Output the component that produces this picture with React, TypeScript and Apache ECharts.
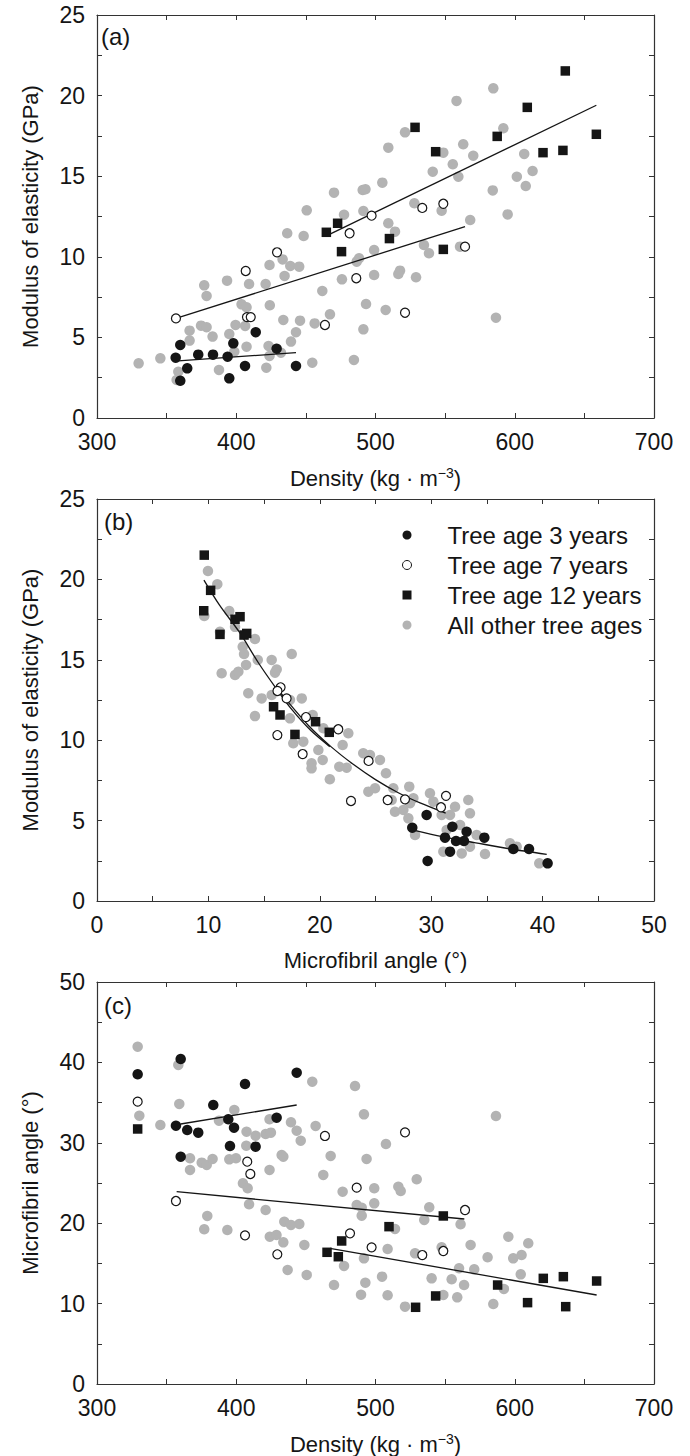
import React, { useEffect, useRef } from "react";
import * as echarts from "echarts";

// ---------- Panel (a): MOE vs density ----------
const A_AGE3 = [[356.5,3.74],[359.8,4.53],[364.8,3.08],[359.8,2.31],[372.7,3.93],[383.3,3.93],[393.8,3.8],[397.9,4.63],[395,2.46],[406.3,3.23],[414,5.32],[429,4.3],[442.9,3.23]];
const A_AGE7 = [[356.7,6.18],[406.8,9.12],[429.3,10.28],[407.7,6.26],[410.4,6.26],[463.7,5.77],[486.2,8.67],[481.4,11.46],[564.3,10.63],[521.2,6.53],[533.6,13.03],[548.7,13.29],[497.2,12.55]];
const A_AGE12 = [[464.7,11.52],[472.8,12.08],[475.6,10.32],[510,11.13],[548.7,10.46],[528.4,18.03],[543.2,16.52],[587.4,17.47],[609,19.27],[636.3,21.53],[658.6,17.6],[620.3,16.46],[634.6,16.6]];
const A_OTHER = [[329.9,3.39],[345.5,3.7],[358.4,2.87],[357.2,2.36],[366.5,5.42],[366.5,4.8],[374.7,5.73],[378.7,5.63],[383,5.05],[377,8.23],[378.7,7.57],[387.6,2.98],[393.4,8.52],[395,5.21],[399.5,5.77],[398.6,4.11],[403.8,7.05],[407.4,6.87],[406.4,5.71],[407.4,4.42],[409.2,8.31],[421.1,8.31],[421.6,3.12],[423.9,9.49],[424.1,6.99],[423.2,4.47],[423.9,3.85],[433.3,9.84],[434.7,8.81],[433.8,6.08],[432.1,4.05],[438.8,9.43],[445.2,9.39],[445.8,6.04],[442.9,5.32],[439.3,4.74],[436.6,11.46],[448.4,11.29],[454.6,3.43],[456.3,5.87],[461.8,7.88],[467.3,6.43],[475.9,8.6],[484.5,3.6],[488.2,9.91],[486.5,9.7],[491.3,5.5],[493.2,7.07],[499,10.42],[499,8.87],[507.3,6.7],[509.2,12.08],[514,11.56],[534.8,10.73],[538.4,10.22],[517.6,9.14],[516.4,8.93],[529.1,8.73],[560.7,10.63],[568,12.28],[586.5,6.22],[509.2,16.77],[521.2,17.72],[504.9,14.6],[558.2,19.67],[584.6,20.45],[591.8,17.97],[548.7,16.46],[563,16.98],[570.2,16.27],[555.5,15.74],[541.1,15.28],[559.5,14.97],[527.9,13.32],[547.5,12.86],[584.2,14.12],[601.5,14.97],[606.8,16.38],[612.8,15.32],[607.9,14.39],[594.9,12.63],[490.8,14.14],[492.8,14.19],[470.2,13.98],[450.6,12.88],[477.4,12.61],[491.3,12.84]];
const A_FIT3 = [[358.4,3.55],[442.9,4.05]];
const A_FIT7 = [[356.7,6.18],[564.3,11.87]];
const A_FIT12 = [[467.3,11.41],[658.6,19.4]];

// ---------- Panel (b): MOE vs microfibril angle ----------
const B_AGE3 = [[29.59,5.35],[28.3,4.56],[31.9,4.62],[31.24,3.94],[32.23,3.73],[32.94,3.73],[33.18,4.31],[34.77,3.94],[31.69,3.07],[29.68,2.49],[37.37,3.23],[38.78,3.23],[40.45,2.34]];
const B_AGE7 = [[16.48,13.29],[16.2,13.06],[17.02,12.6],[18.76,11.44],[21.66,10.68],[16.19,10.32],[18.46,9.14],[24.38,8.71],[22.8,6.22],[26.09,6.28],[27.65,6.32],[31.33,6.54],[30.88,5.83]];
const B_AGE12 = [[9.63,21.51],[10.2,19.32],[9.58,18.05],[11.04,16.58],[12.39,17.52],[12.84,17.68],[13.2,16.54],[13.44,16.64],[15.85,12.08],[16.43,11.57],[17.77,10.36],[19.62,11.15],[20.85,10.49]];
const B_OTHER = [[9.96,20.52],[10.8,19.7],[9.63,17.72],[11.87,18.03],[12.39,17.05],[11.04,16.74],[14.18,16.29],[13.08,15.81],[13.2,15.36],[14.43,14.99],[15.68,14.99],[17.48,15.36],[13.38,14.68],[16.13,14.4],[15.98,14.2],[11.19,14.16],[12.39,14.05],[12.69,14.26],[13.58,12.92],[14.78,12.6],[15.68,12.81],[17.32,12.5],[18.38,12.6],[14.18,11.5],[17.32,11.36],[17.62,9.81],[18.52,9.91],[19.87,9.39],[20.26,8.77],[19.26,8.56],[19.26,8.25],[20.9,7.57],[21.75,8.35],[22.41,8.29],[22.05,9.7],[22.56,10.43],[20.32,10.74],[19.36,11.57],[23.9,9.19],[24.5,9.08],[25.4,8.77],[25.94,7.94],[24.36,6.8],[24.96,7.01],[26.6,7.01],[28.03,7.11],[26.45,6.28],[26.75,5.55],[27.5,5.66],[28.1,6.08],[28.4,6.39],[27.95,5.14],[28.55,4.1],[29.89,6.7],[30.19,6.18],[30.94,5.35],[31.69,5.35],[32.14,5.86],[33.33,6.28],[33.48,5.45],[32.59,4.73],[31.39,4.42],[33.48,3.38],[32.74,2.96],[31.09,3.07],[34.08,4.1],[34.83,2.92],[37.07,3.59],[37.67,3.38],[39.7,2.34]];
const B_FIT3 = [[28.3,4.42],[31,4.0],[34,3.62],[37,3.25],[40.37,2.9]];
const B_FIT7 = [[16.2,13.2],[17,12.5],[19,10.9],[21,9.6],[23,8.5],[25,7.55],[27,6.75],[29,6.1],[31.3,5.47]];
const B_FIT12 = [[9.6,19.96],[11,18.4],[12.8,16.7],[14.5,14.8],[16,13.3],[17.5,11.9],[19.2,10.6],[20.9,9.6]];

// ---------- Panel (c): MFA vs density ----------
const C_AGE3 = [[329.2,38.52],[360.1,40.42],[356.7,32.13],[364.8,31.59],[372.7,31.26],[383.5,34.7],[394.3,32.92],[398.4,31.88],[395.5,29.6],[413.9,29.52],[406.3,37.31],[429,33.12],[443.4,38.72],[360.1,28.27]];
const C_AGE7 = [[329.2,35.12],[463.7,30.85],[407.9,27.65],[410.1,26.12],[356.7,22.76],[486.5,24.42],[406.3,18.49],[429.5,16.13],[481.7,18.74],[497.2,17.0],[521.2,31.3],[564.3,21.64],[533.6,16.04],[548.7,16.54]];
const C_AGE12 = [[329.2,31.72],[465.2,16.38],[473.3,15.83],[475.7,17.79],[509.7,19.57],[548.7,20.9],[528.8,9.54],[543.2,10.95],[587.7,12.31],[609.2,10.12],[620.5,13.14],[634.9,13.35],[636.6,9.62],[658.8,12.81]];
const C_OTHER = [[329.2,41.95],[358.4,39.68],[359.1,34.83],[330.4,33.37],[345.5,32.21],[387.6,32.75],[398.6,34.08],[407.4,31.38],[413.9,30.88],[421.1,31.09],[424.9,31.26],[423.9,32.92],[439.3,32.55],[443.4,31.5],[446.3,30.26],[454.6,37.6],[457,32.09],[485.3,37.06],[491.7,33.54],[507.5,29.85],[407.2,29.64],[366.8,28.07],[375.2,27.53],[378.8,27.24],[383,27.99],[395,27.94],[399.8,28.07],[366.8,26.62],[423.9,26.62],[432.6,28.48],[433.8,28.27],[467.8,28.36],[493.6,27.99],[462.5,26.0],[586.5,33.33],[529.6,25.46],[404.8,24.96],[408.2,24.34],[409.2,22.35],[421.1,21.64],[379.2,20.9],[377,19.24],[393.6,19.15],[434.5,20.19],[439.3,19.78],[445.3,19.9],[424.1,18.32],[428.9,18.53],[433.8,17.62],[448.9,17.29],[476.4,23.92],[499.1,24.34],[499.1,22.47],[486.5,22.26],[490.1,21.93],[490.1,20.93],[436.9,14.18],[450.6,13.56],[477.4,14.68],[491.7,15.63],[470.2,12.31],[492.7,12.6],[489.6,11.11],[508.7,16.79],[504.7,13.35],[508.7,11.03],[516.4,24.54],[518.1,24.0],[538.6,21.98],[535,20.4],[561.1,19.86],[514,19.28],[528.4,16.25],[547.5,17.0],[568.3,17.29],[580.5,15.76],[595.4,18.32],[609.7,17.5],[598.9,15.63],[604.9,16.04],[604.3,13.64],[560,14.39],[570.9,14.26],[540.3,13.14],[554.7,13.02],[563.6,12.31],[521.2,9.62],[548.7,11.07],[558.7,10.78],[584.6,9.95],[592.2,11.82]];
const C_FIT3 = [[360.1,32.34],[443.4,34.7]];
const C_FIT7 = [[357.2,23.92],[563.8,20.52]];
const C_FIT12 = [[467.3,16.88],[658.8,11.07]];

const SERIES_NAMES = ["Tree age 3 years", "Tree age 7 years", "Tree age 12 years", "All other tree ages"];
const PANEL_LABELS = ["(a)", "(b)", "(c)"];

const FONT = "'Liberation Sans', Arial, Helvetica, sans-serif";
const INK = "#151515";
const FRAME = "#333333";
const GRAY = "#b3b3b3";

function axisPair(kind: "x" | "y", gi: number, min: number, max: number, interval: number, name: string, richName?: boolean) {
  const line = { show: true, onZero: false, lineStyle: { color: FRAME, width: 1.2 } };
  const tick = { show: true, inside: true, length: 5, lineStyle: { color: FRAME, width: 1 } };
  const minor = { show: true, splitNumber: 2, length: 5, lineStyle: { color: FRAME, width: 1 } };
  const base: any = {
    type: "value", gridIndex: gi, min, max, interval,
    axisLine: line, axisTick: tick, minorTick: minor,
    splitLine: { show: false }, minorSplitLine: { show: false },
  };
  const primary: any = {
    ...base,
    position: kind === "x" ? "bottom" : "left",
    axisLabel: { show: true, fontSize: 23, fontFamily: FONT, color: INK, margin: 12 },
    name,
    nameLocation: "middle",
    nameGap: kind === "x" ? 48 : 56,
    nameTextStyle: {
      fontSize: 22, fontFamily: FONT, color: INK,
      rich: richName ? {
        sup: { fontSize: 14, fontFamily: FONT, color: INK, verticalAlign: "bottom", padding: [0, 0, 10, 0] },
      } : undefined,
    },
  };
  const secondary: any = {
    ...base,
    position: kind === "x" ? "top" : "right",
    axisLabel: { show: false },
  };
  return [primary, secondary];
}

function scat(name: string, data: number[][], gi: number, kind: number) {
  const styles = [
    { symbol: "circle", symbolSize: 10.5, itemStyle: { color: INK, opacity: 1 } },
    { symbol: "circle", symbolSize: 9, itemStyle: { color: "#ffffff", borderColor: INK, borderWidth: 1.2, opacity: 1 } },
    { symbol: "rect", symbolSize: 9.5, itemStyle: { color: INK, opacity: 1 } },
    { symbol: "circle", symbolSize: 10.5, itemStyle: { color: GRAY, opacity: 1 } },
  ];
  return {
    type: "scatter", name, data, xAxisIndex: gi * 2, yAxisIndex: gi * 2,
    z: kind === 3 ? 1 : 3, silent: true,
    ...styles[kind],
  };
}

function fit(data: number[][], gi: number, smooth: boolean) {
  return {
    type: "line", data, xAxisIndex: gi * 2, yAxisIndex: gi * 2,
    showSymbol: false, symbol: "none", smooth: smooth ? 0.3 : false, z: 2, silent: true,
    lineStyle: { color: INK, width: 1.3 },
  };
}

export default function App() {
  const ref = useRef<HTMLDivElement>(null);
  useEffect(() => {
    document.body.style.margin = "0";
    if (!ref.current) return;
    const chart = echarts.init(ref.current, undefined, { renderer: "svg" });
    const gridTops = [15, 499, 982];
    const gridHeights = [403, 402, 402];
    const labelTops = [24, 509, 993];
    const densityName = "Density (kg · m{sup|−3})";
    const xA = axisPair("x", 0, 300, 700, 100, densityName, true);
    const xB = axisPair("x", 1, 0, 50, 10, "Microfibril angle (°)");
    const xC = axisPair("x", 2, 300, 700, 100, densityName, true);
    const yA = axisPair("y", 0, 0, 25, 5, "Modulus of elasticity (GPa)");
    const yB = axisPair("y", 1, 0, 25, 5, "Modulus of elasticity (GPa)");
    const yC = axisPair("y", 2, 0, 50, 10, "Microfibril angle (°)");

    const option: any = {
      animation: false,
      backgroundColor: "#ffffff",
      title: PANEL_LABELS.map((t, i) => ({
        text: t, left: i === 0 ? 101 : 104, top: labelTops[i], padding: 0,
        textStyle: { fontSize: 24, fontWeight: "normal", fontFamily: FONT, color: INK },
      })),
      legend: {
        left: 402, top: 523, orient: "vertical", padding: 0,
        itemWidth: 9, itemHeight: 9, itemGap: 6, selectedMode: false,
        textStyle: { fontSize: 24, fontFamily: FONT, color: INK, lineHeight: 24, padding: [0, 0, 0, 31] },
        data: [
          { name: SERIES_NAMES[0], icon: "circle", itemStyle: { color: INK, opacity: 1 } },
          { name: SERIES_NAMES[1], icon: "circle", itemStyle: { color: "#ffffff", borderColor: INK, borderWidth: 1, opacity: 1 } },
          { name: SERIES_NAMES[2], icon: "rect", itemStyle: { color: INK, opacity: 1 } },
          { name: SERIES_NAMES[3], icon: "circle", itemStyle: { color: GRAY, opacity: 1 } },
        ],
      },
      grid: gridTops.map((t, i) => ({ left: 97, width: 557, top: t, height: gridHeights[i] })),
      xAxis: [...xA, ...xB, ...xC],
      yAxis: [...yA, ...yB, ...yC],
      series: [
        scat(SERIES_NAMES[3], A_OTHER, 0, 3),
        fit(A_FIT3, 0, false), fit(A_FIT7, 0, false), fit(A_FIT12, 0, false),
        scat(SERIES_NAMES[0], A_AGE3, 0, 0),
        scat(SERIES_NAMES[1], A_AGE7, 0, 1),
        scat(SERIES_NAMES[2], A_AGE12, 0, 2),

        scat(SERIES_NAMES[3], B_OTHER, 1, 3),
        fit(B_FIT3, 1, true), fit(B_FIT7, 1, true), fit(B_FIT12, 1, true),
        scat(SERIES_NAMES[0], B_AGE3, 1, 0),
        scat(SERIES_NAMES[1], B_AGE7, 1, 1),
        scat(SERIES_NAMES[2], B_AGE12, 1, 2),

        scat(SERIES_NAMES[3], C_OTHER, 2, 3),
        fit(C_FIT3, 2, false), fit(C_FIT7, 2, false), fit(C_FIT12, 2, false),
        scat(SERIES_NAMES[0], C_AGE3, 2, 0),
        scat(SERIES_NAMES[1], C_AGE7, 2, 1),
        scat(SERIES_NAMES[2], C_AGE12, 2, 2),
      ],
    };
    chart.setOption(option);
    return () => chart.dispose();
  }, []);
  return <div ref={ref} style={{ width: 690, height: 1456 }} />;
}
